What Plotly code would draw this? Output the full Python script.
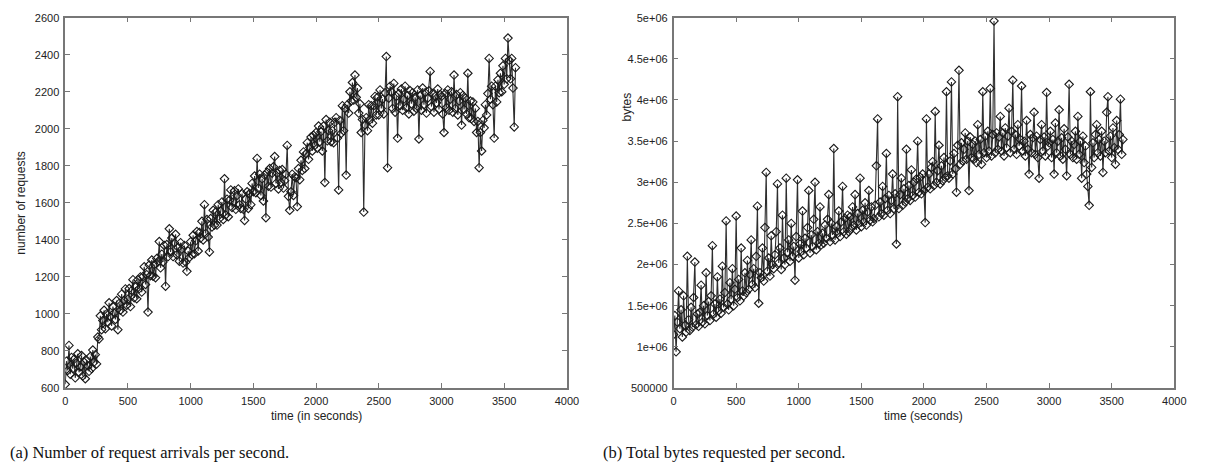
import plotly.graph_objects as go

# time in seconds (one sample every 10 s)
time_s = list(range(0, 3600, 10))

# (a) number of request arrivals per second
requests = [
    620, 745, 695, 830, 675, 765, 705, 755, 655, 735, 785, 685, 715, 775, 665, 740, 650, 750, 720, 690,
    770, 705, 805, 740, 780, 730, 875, 865, 990, 915, 965, 1020, 920, 1000, 955, 1060, 985, 935, 1040, 1005,
    970, 1072, 915, 1057, 1020, 1107, 1010, 1072, 1135, 1047, 1080, 1137, 1040, 1127, 1185, 1087, 1145, 1082, 1185, 1137,
    1200, 1118, 1202, 1255, 1159, 1212, 1010, 1264, 1207, 1291, 1204, 1267, 1196, 1299, 1283, 1391, 1249, 1323, 1281, 1370,
    1150, 1375, 1310, 1460, 1335, 1410, 1310, 1385, 1430, 1320, 1360, 1285, 1385, 1350, 1275, 1370, 1280, 1230, 1340, 1305,
    1390, 1320, 1425, 1325, 1395, 1445, 1340, 1440, 1410, 1500, 1400, 1590, 1435, 1510, 1415, 1335, 1515, 1470, 1560, 1480,
    1550, 1480, 1590, 1515, 1555, 1605, 1510, 1730, 1535, 1620, 1525, 1615, 1670, 1575, 1605, 1665, 1565, 1640, 1675, 1590,
    1570, 1650, 1565, 1505, 1620, 1660, 1570, 1650, 1590, 1705, 1660, 1745, 1655, 1840, 1680, 1755, 1640, 1730, 1610, 1750,
    1520, 1765, 1690, 1785, 1685, 1760, 1795, 1850, 1705, 1760, 1675, 1775, 1710, 1780, 1680, 1720, 1755, 1910, 1635, 1560,
    1660, 1755, 1640, 1740, 1735, 1580, 1785, 1725, 1830, 1775, 1875, 1785, 1865, 1925, 1835, 1900, 1955, 1880, 1965, 1910,
    1980, 1895, 2015, 1930, 1985, 1880, 2015, 1710, 2050, 1935, 1990, 2035, 1930, 1990, 1925, 2035, 2060, 1950, 1670, 2045,
    1975, 2125, 1990, 2110, 1750, 2130, 2085, 2200, 2150, 2250, 2155, 2290, 2170, 2220, 2085, 2135, 1980, 2050, 1550, 2020,
    2060, 1990, 2130, 2050, 2125, 2030, 2125, 2175, 2075, 2170, 2075, 2210, 2110, 2160, 2080, 2195, 2390, 1790, 2165, 2230,
    2200, 2110, 2245, 2090, 2175, 1950, 2190, 2125, 2215, 2100, 2160, 2230, 2115, 2180, 2080, 2205, 2135, 2195, 2095, 2170,
    2110, 2210, 1945, 2180, 2100, 2220, 2130, 2195, 2085, 2165, 2205, 2310, 2120, 2190, 2090, 2175, 2140, 2215, 2105, 2185,
    2175, 2080, 1980, 2190, 2115, 2210, 2100, 2160, 2200, 2090, 2290, 2110, 2185, 2075, 2150, 2195, 2020, 2180, 2105, 2165,
    2080, 2300, 2060, 2150, 2055, 2145, 2040, 2110, 1980, 2040, 1790, 1980, 1880, 2045, 2005, 2130, 2075, 2190, 2380, 2160,
    2230, 2130, 1950, 2230, 2145, 2265, 2195, 2300, 2200, 2340, 2240, 2380, 2270, 2490, 2370, 2270, 2380, 2220, 2010, 2330,
]

# (b) total bytes requested per second
bytes_per_s = [
    1.15e6, 1.38e6, 0.94e6, 1.30e6, 1.68e6, 1.22e6, 1.45e6, 1.12e6, 1.62e6, 1.26e6, 1.18e6, 2.10e6, 1.33e6, 1.20e6, 1.48e6, 1.24e6, 1.60e6, 2.03e6, 1.27e6, 1.40e6,
    1.25e6, 1.42e6, 1.75e6, 1.30e6, 1.50e6, 1.28e6, 1.90e6, 1.38e6, 1.55e6, 1.32e6, 1.62e6, 2.23e6, 1.40e6, 1.52e6, 1.36e6, 1.85e6, 1.44e6, 1.58e6, 1.41e6, 1.98e6,
    1.48e6, 1.66e6, 2.53e6, 1.52e6, 1.45e6, 1.78e6, 1.58e6, 1.95e6, 1.50e6, 1.70e6, 2.59e6, 1.60e6, 1.82e6, 1.56e6, 2.20e6, 1.68e6, 1.62e6, 1.90e6, 1.66e6, 2.05e6,
    1.70e6, 1.88e6, 2.30e6, 1.76e6, 1.95e6, 1.72e6, 2.10e6, 2.71e6, 1.53e6, 1.90e6, 1.84e6, 2.20e6, 1.80e6, 2.45e6, 3.12e6, 1.92e6, 2.08e6, 1.86e6, 2.35e6, 2.00e6,
    1.95e6, 2.12e6, 2.40e6, 2.98e6, 2.02e6, 2.20e6, 1.94e6, 2.60e6, 2.08e6, 2.00e6, 3.05e6, 2.15e6, 2.30e6, 2.04e6, 2.50e6, 2.10e6, 2.22e6, 1.81e6, 2.34e6, 3.03e6,
    2.08e6, 2.25e6, 2.16e6, 2.65e6, 2.12e6, 2.32e6, 2.20e6, 2.45e6, 2.90e6, 2.14e6, 2.36e6, 2.22e6, 2.55e6, 3.00e6, 2.18e6, 2.40e6, 2.26e6, 2.70e6, 2.24e6, 2.38e6,
    2.26e6, 2.48e6, 2.32e6, 2.55e6, 2.85e6, 2.28e6, 2.50e6, 2.36e6, 3.41e6, 2.30e6, 2.46e6, 2.38e6, 2.65e6, 2.34e6, 2.52e6, 2.95e6, 2.40e6, 2.56e6, 2.37e6, 2.60e6,
    2.40e6, 2.58e6, 2.44e6, 2.70e6, 2.48e6, 2.85e6, 2.42e6, 2.62e6, 2.50e6, 3.05e6, 2.46e6, 2.66e6, 2.52e6, 2.75e6, 2.48e6, 2.64e6, 2.90e6, 2.54e6, 2.70e6, 2.52e6,
    2.56e6, 2.72e6, 3.20e6, 3.77e6, 2.58e6, 2.76e6, 2.62e6, 2.95e6, 2.60e6, 2.80e6, 3.35e6, 2.66e6, 2.84e6, 2.62e6, 2.78e6, 3.10e6, 2.68e6, 2.86e6, 2.25e6, 4.04e6,
    2.68e6, 2.85e6, 3.05e6, 2.72e6, 2.92e6, 2.76e6, 3.40e6, 2.80e6, 2.96e6, 2.78e6, 3.15e6, 2.84e6, 3.00e6, 2.82e6, 3.04e6, 3.50e6, 2.88e6, 3.06e6, 2.86e6, 3.10e6,
    2.90e6, 2.51e6, 3.77e6, 2.94e6, 3.10e6, 2.92e6, 3.18e6, 3.25e6, 2.96e6, 3.86e6, 3.00e6, 3.14e6, 3.45e6, 2.98e6, 3.20e6, 3.02e6, 3.30e6, 3.06e6, 4.10e6, 3.08e6,
    3.05e6, 3.26e6, 4.22e6, 3.10e6, 3.35e6, 3.16e6, 2.88e6, 3.45e6, 4.36e6, 3.22e6, 3.48e6, 3.26e6, 3.40e6, 3.60e6, 3.28e6, 3.50e6, 2.90e6, 3.55e6, 3.30e6, 3.46e6,
    3.28e6, 3.50e6, 3.24e6, 3.70e6, 3.34e6, 3.52e6, 3.22e6, 4.10e6, 3.36e6, 3.56e6, 3.30e6, 3.62e6, 3.38e6, 4.14e6, 3.32e6, 3.58e6, 4.96e6, 3.36e6, 3.60e6, 3.40e6,
    3.55e6, 3.80e6, 3.38e6, 3.60e6, 3.32e6, 3.66e6, 3.42e6, 3.56e6, 3.90e6, 3.36e6, 3.62e6, 4.24e6, 3.40e6, 3.58e6, 3.34e6, 3.70e6, 3.44e6, 3.52e6, 4.17e6, 3.38e6,
    3.50e6, 3.32e6, 3.75e6, 3.40e6, 3.10e6, 3.58e6, 3.36e6, 3.54e6, 3.85e6, 3.34e6, 3.56e6, 3.30e6, 3.05e6, 3.52e6, 3.70e6, 3.38e6, 3.55e6, 3.32e6, 4.09e6, 3.44e6,
    3.48e6, 3.62e6, 3.30e6, 3.52e6, 3.10e6, 3.72e6, 3.36e6, 3.50e6, 3.88e6, 3.32e6, 3.54e6, 3.28e6, 3.65e6, 3.40e6, 3.08e6, 3.55e6, 4.19e6, 3.34e6, 3.50e6, 3.30e6,
    3.46e6, 3.62e6, 3.28e6, 3.80e6, 3.34e6, 3.50e6, 3.05e6, 3.56e6, 3.24e6, 3.44e6, 3.10e6, 2.95e6, 2.72e6, 4.10e6, 3.18e6, 3.48e6, 3.30e6, 3.58e6, 3.70e6, 3.36e6,
    3.52e6, 3.32e6, 3.62e6, 3.12e6, 3.50e6, 3.36e6, 3.85e6, 4.04e6, 3.38e6, 3.56e6, 3.30e6, 3.66e6, 3.42e6, 3.22e6, 3.75e6, 3.40e6, 3.58e6, 4.01e6, 3.34e6, 3.52e6,
]

x_ticks = [0, 500, 1000, 1500, 2000, 2500, 3000, 3500, 4000]
req_ticks = [600, 800, 1000, 1200, 1400, 1600, 1800, 2000, 2200, 2400, 2600]
byte_ticks = [500000, 1000000, 1500000, 2000000, 2500000, 3000000, 3500000, 4000000, 4500000, 5000000]
byte_tick_text = ["500000", "1e+06", "1.5e+06", "2e+06", "2.5e+06", "3e+06", "3.5e+06", "4e+06", "4.5e+06", "5e+06"]

W, H = 1209, 471
TICKFONT = dict(family="Liberation Sans, Arial, sans-serif", size=11, color="#222")
AXCOL = "#777"

fig = go.Figure()
common = dict(mode="lines+markers",
              line=dict(color="#2e2e2e", width=1.1),
              marker=dict(symbol="diamond-open", size=6.5, color="#1a1a1a", line=dict(width=1.1)),
              showlegend=False, hoverinfo="skip")
fig.add_trace(go.Scatter(x=time_s, y=requests, xaxis="x", yaxis="y", **common))
fig.add_trace(go.Scatter(x=time_s, y=bytes_per_s, xaxis="x2", yaxis="y2", **common))

ydom = [79 / H, 459 / H]
axis_common = dict(showgrid=False, zeroline=False, showline=True, linecolor=AXCOL, linewidth=1.5,
                   mirror="ticks", ticks="inside", ticklen=5, tickcolor=AXCOL, tickwidth=1,
                   tickfont=TICKFONT)

fig.update_layout(
    width=W, height=H,
    margin=dict(l=0, r=0, t=0, b=0),
    paper_bgcolor="white", plot_bgcolor="white",
    xaxis=dict(domain=[63 / W, 571 / W], range=[0, 4000], tickvals=x_ticks, anchor="y",
               ticklabelstandoff=2, **axis_common),
    yaxis=dict(domain=ydom, range=[600, 2600], tickvals=req_ticks, anchor="x",
               ticklabelstandoff=2, **axis_common),
    xaxis2=dict(domain=[679 / W, 1186 / W], range=[0, 4000], tickvals=x_ticks, anchor="y2",
                ticklabelstandoff=2, **axis_common),
    yaxis2=dict(domain=ydom, range=[500000, 5000000], tickvals=byte_ticks, ticktext=byte_tick_text,
                anchor="x2", ticklabelstandoff=2, **axis_common),
)

LABELFONT = dict(family="Liberation Sans, Arial, sans-serif", size=12, color="#222")
CAPFONT = dict(family="Liberation Serif, Times New Roman, serif", size=16.5, color="#111")

def ann(text, xpx, ypx, font, angle=0, xanchor="center"):
    fig.add_annotation(text=text, x=xpx / W, y=1 - ypx / H, xref="paper", yref="paper",
                       showarrow=False, font=font, textangle=angle, xanchor=xanchor, yanchor="middle")

ann("number of requests", 18, 202, LABELFONT, angle=-90)
ann("time (in seconds)", 317, 421, LABELFONT)
ann("bytes", 632, 104, LABELFONT, angle=-90)
ann("time (seconds)", 932, 421, LABELFONT)
ann("(a) Number of request arrivals per second.", 5, 458, CAPFONT, xanchor="left")
ann("(b) Total bytes requested per second.", 606, 458, CAPFONT, xanchor="left")

fig.write_html("out.html")
